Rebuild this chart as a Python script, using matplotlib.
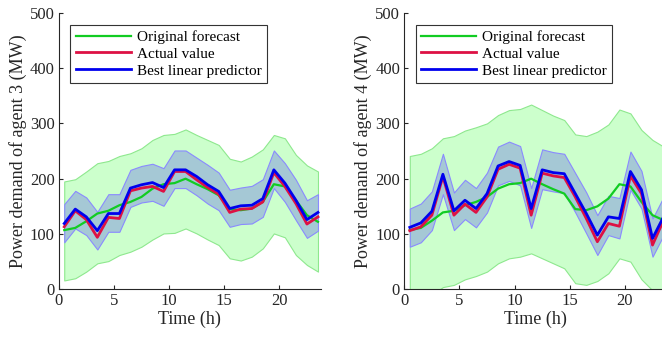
import numpy as np
import matplotlib
matplotlib.use('Agg')
import matplotlib.pyplot as plt

plt.rcParams['font.family'] = ['Liberation Serif', 'DejaVu Serif']

t = np.arange(0.5, 24, 1.0)

# agent 3
f3 = [107, 111, 123, 137, 142, 152, 158, 167, 182, 190, 192, 200, 190, 181, 170, 145, 143, 146, 158, 190, 186, 161, 134, 122]
f3_hi = [195, 199, 213, 228, 232, 241, 246, 255, 270, 279, 281, 289, 279, 270, 261, 236, 231, 240, 253, 279, 273, 243, 224, 213]
f3_lo = [16, 20, 32, 47, 51, 62, 68, 77, 90, 101, 102, 110, 101, 90, 80, 56, 52, 59, 74, 101, 94, 62, 44, 32]
a3 = [113, 142, 126, 94, 130, 128, 178, 183, 186, 177, 213, 213, 198, 184, 172, 139, 145, 146, 158, 211, 186, 155, 118, 131]
p3 = [119, 145, 131, 106, 137, 137, 183, 189, 193, 184, 216, 216, 204, 189, 177, 146, 151, 152, 164, 216, 192, 161, 126, 139]
p3_hi = [154, 178, 166, 140, 172, 172, 216, 223, 227, 219, 251, 251, 238, 225, 211, 180, 184, 187, 199, 251, 228, 198, 161, 172]
p3_lo = [85, 110, 98, 72, 104, 104, 149, 157, 160, 151, 183, 183, 170, 155, 143, 113, 118, 119, 131, 183, 158, 125, 93, 106]

# agent 4
f4 = [107, 111, 124, 139, 142, 152, 158, 167, 182, 190, 192, 200, 190, 181, 173, 145, 143, 150, 164, 190, 186, 158, 134, 125]
f4_hi = [241, 245, 255, 273, 277, 287, 293, 300, 315, 324, 326, 334, 324, 314, 306, 280, 277, 285, 298, 325, 318, 288, 270, 258]
f4_lo = [-27, -23, -10, 4, 8, 18, 24, 32, 47, 56, 59, 65, 56, 47, 38, 11, 8, 15, 29, 56, 50, 18, -2, -9]
a4 = [106, 113, 134, 204, 134, 154, 139, 167, 217, 226, 219, 134, 210, 205, 202, 167, 128, 86, 119, 114, 205, 173, 80, 125]
p4 = [112, 120, 141, 208, 142, 161, 146, 173, 223, 231, 224, 146, 216, 211, 209, 173, 137, 98, 131, 128, 213, 180, 92, 131]
p4_hi = [146, 155, 177, 245, 175, 198, 183, 211, 258, 267, 259, 183, 253, 248, 245, 210, 175, 134, 169, 165, 249, 214, 128, 167]
p4_lo = [77, 85, 107, 172, 107, 127, 112, 139, 188, 196, 188, 111, 181, 177, 174, 139, 101, 62, 98, 92, 180, 146, 59, 98]

agents = [(3, f3, f3_lo, f3_hi, a3, p3, p3_lo, p3_hi),
          (4, f4, f4_lo, f4_hi, a4, p4, p4_lo, p4_hi)]

fig = plt.figure(figsize=(6.62, 3.41), dpi=100)
lefts = [0.0887, 0.6107]

for left, (k, f, flo, fhi, a, p, plo, phi) in zip(lefts, agents):
    ax = fig.add_axes([left, 0.1516, 0.3958, 0.811])
    ax.fill_between(t, flo, fhi, facecolor='#ccffcc', edgecolor='#8ee88e', lw=0.8)
    ax.fill_between(t, plo, phi, facecolor='#a5c8d5', edgecolor='#8a8aff', lw=0.8)
    ax.plot(t, f, color='#11cc22', lw=1.6, label='Original forecast')
    ax.plot(t, a, color='#dd1144', lw=2.0, label='Actual value')
    ax.plot(t, p, color='#0000ee', lw=2.0, label='Best linear predictor')
    ax.set_xlim(0, 23.75)
    ax.set_ylim(0, 500)
    ax.set_xticks([0, 5, 10, 15, 20])
    ax.set_yticks([0, 100, 200, 300, 400, 500])
    ax.spines['top'].set_visible(False)
    ax.spines['right'].set_visible(False)
    for s in ['left', 'bottom']:
        ax.spines[s].set_color('#262626')
        ax.spines[s].set_linewidth(0.8)
    ax.tick_params(direction='in', length=3, labelsize=12, colors='#262626', pad=3)
    ax.set_xlabel('Time (h)', fontsize=13, labelpad=1, color='#262626')
    ax.set_ylabel('Power demand of agent %d (MW)' % k, fontsize=13, labelpad=2, color='#262626')
    leg = ax.legend(loc='upper left', bbox_to_anchor=(0.044, 0.956), borderaxespad=0,
                    fontsize=11, handlelength=3.6, labelspacing=0.2, handletextpad=0.4,
                    borderpad=0.35, fancybox=False, framealpha=1)
    leg.get_frame().set_edgecolor('#333333')
    leg.get_frame().set_linewidth(0.8)

fig.savefig('out.png', dpi=100)
